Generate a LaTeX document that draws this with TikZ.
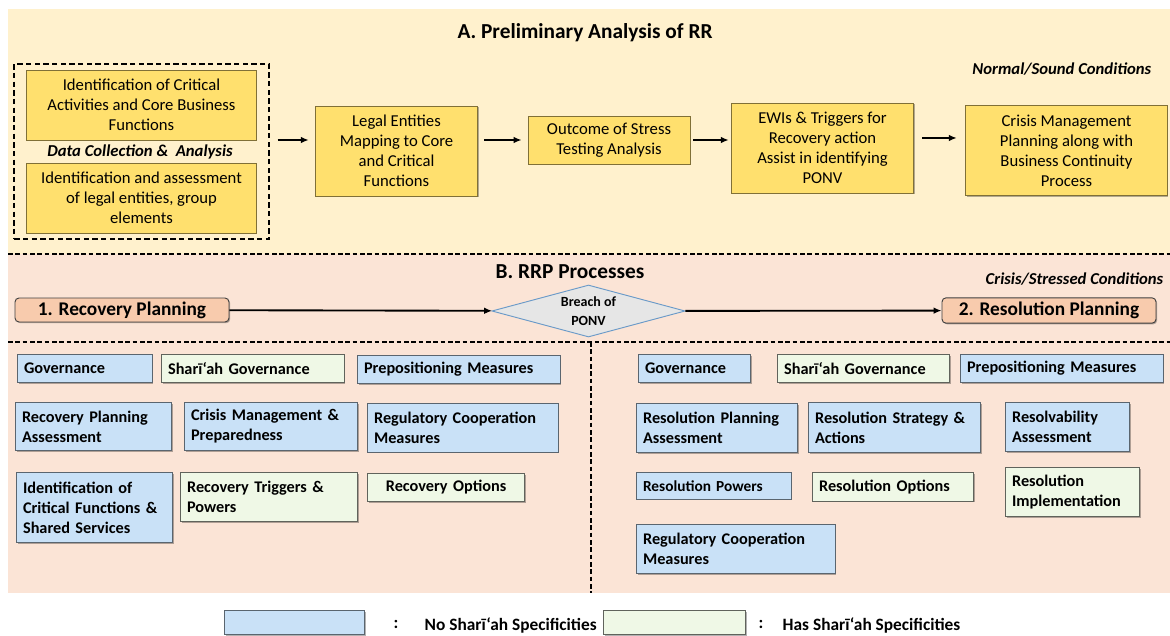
\documentclass[tikz,border=0pt]{standalone}
\usepackage{fontspec}
\setmainfont{Carlito}
\usetikzlibrary{arrows.meta,shapes.geometric,fit,shadows}

\definecolor{creambg}{HTML}{FFF1CD}
\definecolor{pinkbg}{HTML}{FBE4D6}
\definecolor{goldbox}{HTML}{FFE06E}
\definecolor{bluebox}{HTML}{C9E1F7}
\definecolor{greenbox}{HTML}{EFF8E6}
\definecolor{peachbox}{HTML}{F8CBAD}
\definecolor{greydiam}{HTML}{E6E6E6}
\definecolor{diamline}{HTML}{6A9AC8}

\tikzset{
  bevel/.style={drop shadow={shadow xshift=0.9pt,shadow yshift=-0.9pt,opacity=0.3,fill=black}},
  stage/.style={bevel,draw=goldbox!50!black,fill=goldbox,line width=0.6pt,align=center,inner sep=1pt,font=\fontsize{12.5}{15}\selectfont},
  nosh/.style={bevel,draw=bluebox!45!black,fill=bluebox,line width=0.6pt,anchor=north west,align=left,inner xsep=5pt,inner ysep=0pt,font=\bfseries\fontsize{12.2}{15}\selectfont},
  hassh/.style={nosh,draw=greenbox!40!black,fill=greenbox},
  phase/.style={bevel,draw=black!75,fill=peachbox,rounded corners=3pt,line width=0.7pt,inner sep=0pt,font=\bfseries\fontsize{14.5}{16}\selectfont},
  flow/.style={-{Latex[length=6pt,width=5pt]},line width=1.4pt},
  divider/.style={dash pattern=on 3.5pt off 2pt,line width=1.2pt},
  heading/.style={font=\bfseries\fontsize{16}{19}\selectfont},
  cond/.style={font=\bfseries\itshape\fontsize{12.5}{15}\selectfont},
  keytext/.style={font=\bfseries\fontsize{13}{15}\selectfont}
}

\begin{document}
\begin{tikzpicture}[x=0.75pt,y=-0.75pt]
\useasboundingbox (0,0) rectangle (1170,635);
\fill[creambg] (8,9) rectangle (1170,254);
\fill[pinkbg] (8,254) rectangle (1170,593);
\draw[divider] (8,254) -- (1170,254);
\draw[divider] (8,342) -- (1170,342);
\draw[divider] (591,342) -- (591,593);

% A. preliminary analysis
\node[heading] (titleA) at (585,33) {A. Preliminary Analysis of RR};
\node[cond,anchor=east] (normal) at (1156,69) {Normal/Sound Conditions};
\node[stage,minimum width=172pt,minimum height=52.5pt] (crit) at (141.5,105) {Identification of Critical\\Activities and Core Business\\Functions};
\node[cond] (dcl) at (140,152) {Data Collection \&\ \ Analysis};
\node[stage,minimum width=172pt,minimum height=52.5pt] (legal) at (141.5,198) {Identification and assessment\\of legal entities, group\\elements};
\node[draw,line width=1.5pt,dash pattern=on 4pt off 2.5pt,fit=(crit)(legal),inner xsep=9pt,inner ysep=4.5pt] (dcbox) {};
\node[stage,minimum width=122pt,minimum height=67.5pt] (map) at (396.5,151) {Legal Entities\\Mapping to Core\\and Critical\\Functions};
\node[stage,minimum width=121.5pt,minimum height=36pt] (stress) at (609,140) {Outcome of Stress\\Testing Analysis};
\node[stage,minimum width=137pt,minimum height=67.5pt] (ewi) at (822.5,148) {EWIs \& Triggers for\\Recovery action\\Assist in identifying\\PONV};
\node[stage,minimum width=151pt,minimum height=68pt] (cmp) at (1066.5,150.5) {Crisis Management\\Planning along with\\Business Continuity\\Process};
\draw[flow,shorten <=6pt,shorten >=4.5pt] (dcbox.east |- stress.west) -- (map.west |- stress.west);
\draw[flow,shorten <=4.5pt,shorten >=4.5pt] (map.east |- stress.west) -- (stress.west);
\draw[flow,shorten <=2pt,shorten >=1.5pt] (stress.east) -- (ewi.west |- stress.west);
\draw[flow,shorten <=6pt,shorten >=6.5pt] ([yshift=7.5pt]ewi.east) -- ([yshift=9.4pt]cmp.west);

% B. RRP processes
\node[heading] (titleB) at (570,272) {B. RRP Processes};
\node[cond,anchor=east] (stressed) at (1168,279) {Crisis/Stressed Conditions};
\node[phase,minimum width=160.5pt,minimum height=18pt] (recplan) at (122,310) {1. Recovery Planning};
\node[diamond,draw=diamline,fill=greydiam,line width=0.7pt,aspect=3.7,inner sep=0pt,minimum width=145pt,minimum height=39pt,align=center,font=\bfseries\fontsize{10.5}{14}\selectfont] (breach) at (588.5,311) {Breach of\\PONV};
\node[phase,minimum width=160.5pt,minimum height=19pt] (resplan) at (1049,310.5) {2. Resolution Planning};
\draw[flow] (recplan) -- (breach);
\draw[flow] (breach) -- (resplan);

% recovery side
\node[nosh,text width=91pt,minimum height=21pt] (govL) at (17,354) {Governance};
\node[hassh,text width=127pt,minimum height=21pt] (sgovL) at (161,354) {Sharī‘ah Governance};
\node[nosh,text width=142pt,minimum height=21pt] (prepL) at (357,355) {Prepositioning Measures};
\node[nosh,text width=107pt,minimum height=36pt] (rpaL) at (15,402) {Recovery Planning\\Assessment};
\node[nosh,text width=120pt,minimum height=36pt] (cmpL) at (184,402) {Crisis Management \&\\Preparedness};
\node[nosh,text width=133pt,minimum height=36.5pt] (rcmL) at (367,403) {Regulatory Cooperation\\Measures};
\node[nosh,text width=107pt,minimum height=52.5pt] (icfL) at (16,472) {Identification of\\Critical Functions \&\\Shared Services};
\node[hassh,text width=123pt,minimum height=37pt] (rtpL) at (180,472) {Recovery Triggers \&\\Powers};
\node[hassh,text width=108pt,minimum height=21pt,align=center] (roL) at (367,473) {Recovery Options};

% resolution side
\node[nosh,text width=74pt,minimum height=21pt] (govR) at (638,354) {Governance};
\node[hassh,text width=119pt,minimum height=21pt] (sgovR) at (777,354) {Sharī‘ah Governance};
\node[nosh,text width=142pt,minimum height=21pt] (prepR) at (960,354) {Prepositioning Measures};
\node[nosh,text width=111pt,minimum height=37pt] (rpaR) at (636,403) {Resolution Planning\\Assessment};
\node[nosh,text width=119pt,minimum height=37.5pt] (rsaR) at (808,402) {Resolution Strategy \&\\Actions};
\node[nosh,text width=83pt,minimum height=37pt] (resaR) at (1005,402) {Resolvability\\Assessment};
\node[nosh,text width=106pt,minimum height=20pt,font=\bfseries\fontsize{11.5}{14}\selectfont] (rpowR) at (636,472) {Resolution Powers};
\node[hassh,text width=111pt,minimum height=21.5pt] (roR) at (812,472) {Resolution Options};
\node[hassh,text width=90.5pt,minimum height=37pt] (rimpR) at (1005,467) {Resolution\\Implementation};
\node[nosh,text width=139pt,minimum height=37pt] (rcmR) at (636,524) {Regulatory Cooperation\\Measures};

% key
\node[nosh,minimum width=105pt,minimum height=18pt] (keyno) at (224,610) {};
\node[keytext] (colno) at (396,624) {:};
\node[keytext,anchor=west] (txtno) at (420,625) {No Sharī‘ah Specificities};
\node[hassh,minimum width=106.5pt,minimum height=18pt] (keyhas) at (603,610) {};
\node[keytext] (colhas) at (761,624) {:};
\node[keytext,anchor=west] (txthas) at (778,625) {Has Sharī‘ah Specificities};
\end{tikzpicture}
\end{document}
